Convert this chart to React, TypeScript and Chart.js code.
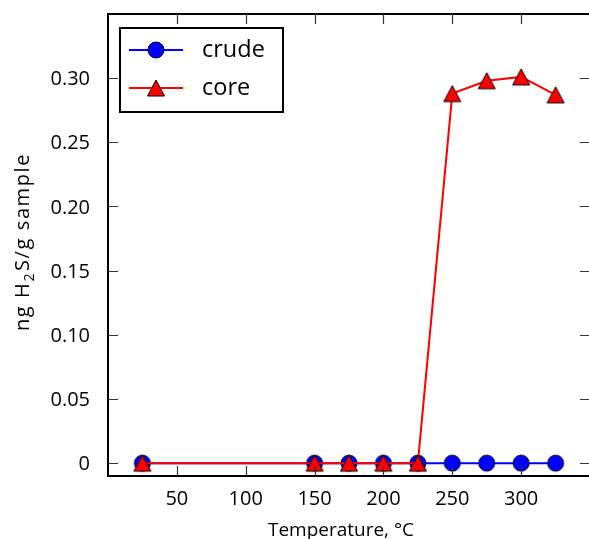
import React, { useEffect, useRef } from "react";
import { Chart, registerables } from "chart.js";
Chart.register(...registerables);

const temperatures = [25, 150, 175, 200, 225, 250, 275, 300, 325];
const crudeValues = [0, 0, 0, 0, 0, 0, 0, 0, 0];
const coreValues = [0, 0, 0, 0, 0, 0.288, 0.298, 0.301, 0.287];
const seriesNames = ["crude", "core"];
const xTickValues = [50, 100, 150, 200, 250, 300];
const yTickValues = [0, 0.05, 0.1, 0.15, 0.2, 0.25, 0.3];
const yTickLabels = ["0", "0.05", "0.10", "0.15", "0.20", "0.25", "0.30"];
const xTitle = "Temperature, °C";

const FONT = '"Open Sans", "DejaVu Sans", sans-serif';

function makeCircle(): HTMLCanvasElement {
  const c = document.createElement("canvas");
  c.width = 20;
  c.height = 20;
  const g = c.getContext("2d")!;
  g.beginPath();
  g.arc(10, 10, 8, 0, Math.PI * 2);
  g.fillStyle = "#0000ff";
  g.fill();
  g.lineWidth = 1;
  g.strokeStyle = "#000";
  g.stroke();
  return c;
}

function makeTriangle(): HTMLCanvasElement {
  const c = document.createElement("canvas");
  c.width = 22;
  c.height = 20;
  const g = c.getContext("2d")!;
  g.beginPath();
  g.moveTo(11, 2);
  g.lineTo(2.5, 18);
  g.lineTo(19.5, 18);
  g.closePath();
  g.fillStyle = "#ff0000";
  g.fill();
  g.lineWidth = 1;
  g.lineJoin = "miter";
  g.strokeStyle = "#000";
  g.stroke();
  return c;
}

export default function App() {
  const ref = useRef<HTMLCanvasElement | null>(null);

  useEffect(() => {
    const circle = makeCircle();
    const tri = makeTriangle();

    const decor = {
      id: "decor",
      afterDraw(chart: any) {
        const ctx = chart.ctx as CanvasRenderingContext2D;
        const a = chart.chartArea;
        const xs = chart.scales.x;
        const ys = chart.scales.y;
        ctx.save();
        // ticks
        ctx.strokeStyle = "#333";
        ctx.lineWidth = 1.2;
        const tl = 10;
        xTickValues.forEach((v) => {
          const px = Math.round(xs.getPixelForValue(v)) + 0.5;
          ctx.beginPath();
          ctx.moveTo(px, a.bottom);
          ctx.lineTo(px, a.bottom - tl);
          ctx.moveTo(px, a.top);
          ctx.lineTo(px, a.top + tl);
          ctx.stroke();
        });
        yTickValues.forEach((v) => {
          const py = Math.round(ys.getPixelForValue(v)) + 0.5;
          ctx.beginPath();
          ctx.moveTo(a.left, py);
          ctx.lineTo(a.left + tl, py);
          ctx.moveTo(a.right, py);
          ctx.lineTo(a.right - tl, py);
          ctx.stroke();
        });
        // frame
        ctx.strokeStyle = "#000";
        ctx.lineWidth = 2;
        ctx.strokeRect(a.left, a.top, a.right - a.left, a.bottom - a.top);

        // tick labels
        ctx.fillStyle = "#000";
        ctx.font = `20px ${FONT}`;
        ctx.textBaseline = "alphabetic";
        ctx.textAlign = "center";
        xTickValues.forEach((v) => {
          ctx.fillText(String(v), xs.getPixelForValue(v), 505);
        });
        ctx.textAlign = "right";
        yTickValues.forEach((v, i) => {
          ctx.fillText(yTickLabels[i], 90, ys.getPixelForValue(v) + 7);
        });

        // x title
        ctx.font = `19px ${FONT}`;
        ctx.textAlign = "center";
        ctx.fillText(xTitle, 341, 536);

        // y title with subscript
        ctx.save();
        ctx.translate(29, 242);
        ctx.rotate(-Math.PI / 2);
        (ctx as any).letterSpacing = "1.6px";
        const big = `20px ${FONT}`;
        const small = `14px ${FONT}`;
        const p1 = "ng H";
        const p2 = "2";
        const p3 = "S/g sample";
        ctx.font = big;
        const w1 = ctx.measureText(p1).width;
        const w3 = ctx.measureText(p3).width;
        ctx.font = small;
        const w2 = ctx.measureText(p2).width + 1;
        const total = w1 + w2 + w3;
        let x = -total / 2;
        ctx.textAlign = "left";
        ctx.font = big;
        ctx.fillText(p1, x, 0);
        x += w1;
        ctx.font = small;
        ctx.fillText(p2, x, 5);
        x += w2;
        ctx.font = big;
        ctx.fillText(p3, x, 0);
        ctx.restore();

        // legend
        const lx = 120, ly = 28, lw = 163, lh = 84;
        ctx.fillStyle = "#fff";
        ctx.fillRect(lx, ly, lw, lh);
        ctx.strokeStyle = "#000";
        ctx.lineWidth = 2;
        ctx.strokeRect(lx, ly, lw, lh);
        const rows = [
          { y: 50, color: "#0000ff", img: circle, name: seriesNames[0] },
          { y: 88, color: "#ff0000", img: tri, name: seriesNames[1] },
        ];
        rows.forEach((r) => {
          ctx.strokeStyle = r.color;
          ctx.lineWidth = 2;
          ctx.beginPath();
          ctx.moveTo(129, r.y);
          ctx.lineTo(183, r.y);
          ctx.stroke();
          ctx.drawImage(r.img, 156 - r.img.width / 2, r.y - r.img.height / 2);
          ctx.fillStyle = "#000";
          ctx.font = `23.5px ${FONT}`;
          ctx.textAlign = "left";
          ctx.textBaseline = "middle";
          ctx.fillText(r.name, 202, r.y);
        });
        ctx.restore();
      },
    };

    const chart = new Chart(ref.current!, {
      type: "line",
      data: {
        datasets: [
          {
            label: seriesNames[0],
            data: temperatures.map((t, i) => ({ x: t, y: crudeValues[i] })),
            borderColor: "#0000ff",
            borderWidth: 2,
            pointStyle: circle as any,
            pointRadius: 8,
            order: 1,
          },
          {
            label: seriesNames[1],
            data: temperatures.map((t, i) => ({ x: t, y: coreValues[i] })),
            borderColor: "#ff0000",
            borderWidth: 2,
            pointStyle: tri as any,
            pointRadius: 8,
            order: 0,
          },
        ],
      },
      options: {
        responsive: false,
        animation: false,
        events: [],
        layout: { padding: { top: 14, right: 9.4, left: 0, bottom: 0 } },
        plugins: { legend: { display: false }, tooltip: { enabled: false } },
        elements: { line: { tension: 0 } },
        scales: {
          x: {
            type: "linear",
            min: 0,
            max: 350,
            grid: { display: false },
            border: { display: false },
            ticks: { display: false },
            afterFit: (s: any) => {
              s.height = 63;
            },
          },
          y: {
            type: "linear",
            min: -0.01,
            max: 0.35,
            grid: { display: false },
            border: { display: false },
            ticks: { display: false },
            afterFit: (s: any) => {
              s.width = 108;
            },
          },
        },
      },
      plugins: [decor],
    });
    return () => chart.destroy();
  }, []);

  return (
    <div
      style={{
        position: "fixed",
        left: 0,
        top: 0,
        width: 589,
        height: 539,
        overflow: "hidden",
        background: "#fff",
      }}
    >
      <canvas ref={ref} width={600} height={539} style={{ width: 600, height: 539 }} />
    </div>
  );
}
